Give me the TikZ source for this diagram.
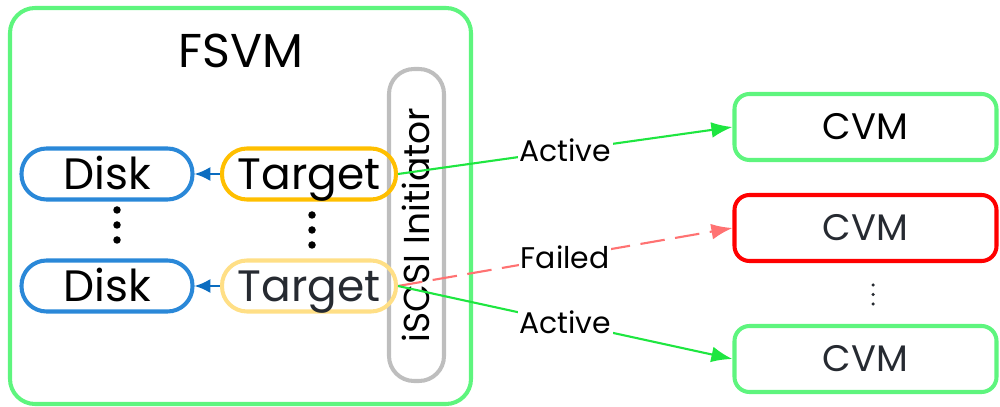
\documentclass[tikz,border=0pt]{standalone}
\usepackage{fontspec}
\setmainfont{Poppins}
\usepackage{xcolor}
\usepackage{tikz}
\usetikzlibrary{arrows.meta,positioning,calc}

\definecolor{vmgreen}{HTML}{5EF57E}
\definecolor{linkgreen}{HTML}{1EE640}
\definecolor{diskblue}{HTML}{2A88D8}
\definecolor{tipblue}{HTML}{0A6CC0}
\definecolor{tgtorange}{HTML}{FFBF00}
\definecolor{tgtpale}{HTML}{FFDF86}
\definecolor{initgray}{HTML}{BEBEBE}
\definecolor{failred}{HTML}{FF7272}
\definecolor{darktext}{HTML}{262A31}

\tikzset{
	box/.style={draw, line width=2.3pt, rounded corners=0.5cm, inner sep=0pt, text depth=0pt},
	diskbox/.style={box, draw=diskblue, minimum width=3.42cm, minimum height=1.02cm, text height=17.4pt, font=\fontsize{25}{25}\selectfont},
	tgtbox/.style={box, minimum width=3.48cm, minimum height=1.02cm, text height=17.4pt, font=\fontsize{25}{25}\selectfont},
	cvmbox/.style={box, rounded corners=0.3cm, minimum width=5.24cm, minimum height=1.32cm, text height=14.6pt, font=\fontsize{21}{21}\selectfont},
	link/.style={line width=1.2pt, -{Latex[length=12pt,width=9pt]}},
	lbl/.style={fill=white, text=black, inner sep=1pt, font=\fontsize{17}{17}\selectfont}
}

\begin{document}
\begin{tikzpicture}
		\useasboundingbox (0,0) rectangle (20,8.14);

		\node[box, draw=vmgreen, minimum width=9.22cm, minimum height=7.92cm] (fsvm) at (4.81,4.02) {};
		\node[font=\fontsize{27}{27}\selectfont] (fsvmlabel) at (4.82,7.12) {FSVM};

		\node[box, draw=initgray, rotate=90, minimum width=6.24cm, minimum height=1.1cm, text height=14.3pt, font=\fontsize{20.5}{20.5}\selectfont] (init) at (8.33,3.64) {iSCSI Initiator};

		\node[diskbox] (d1) at (2.14,4.66) {Disk};
		\node[diskbox] (d2) at (2.14,2.42) {Disk};
		\node[tgtbox, draw=tgtorange] (t1) at (6.18,4.66) {Target};
		\node[tgtbox, draw=tgtpale, text=darktext] (t2) at (6.18,2.42) {Target};

		% vertical dots
		\foreach \y in {3.94,3.64,3.34} \fill (2.34,\y) circle (0.075);
		\foreach \y in {3.84,3.54,3.24} \fill (6.24,\y) circle (0.075);
		\foreach \y in {2.44,2.25,2.06} \fill[darktext] (17.46,\y) circle (0.035);

		\draw[line width=1.2pt, tipblue, -{Latex[length=9pt,width=8pt]}] (t1) -- (d1);
		\draw[line width=1.2pt, tipblue, -{Latex[length=9pt,width=8pt]}] (t2) -- (d2);

		\node[cvmbox, draw=vmgreen] (c1) at (17.31,5.6) {CVM};
		\node[cvmbox, draw=red, text=darktext] (c2) at (17.31,3.58) {CVM};
		\node[cvmbox, draw=vmgreen, text=darktext] (c3) at (17.31,0.96) {CVM};

		\draw[link, linkgreen] (t1.east) -- node[lbl] {Active} (c1.west);
		\draw[link, failred, dash pattern=on 14pt off 6pt] (t2.east) -- node[lbl] {Failed} (c2.west);
		\draw[link, linkgreen] (t2.east) -- node[lbl] {Active} (c3.west);
	\end{tikzpicture}
\end{document}
